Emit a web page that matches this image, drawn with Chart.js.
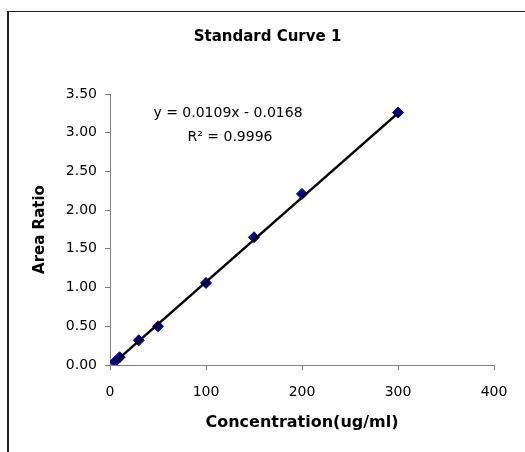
<!DOCTYPE html>
<html>
<head>
<meta charset="utf-8">
<script src="https://cdn.jsdelivr.net/npm/chart.js@4.4.1/dist/chart.umd.min.js"></script>
<style>
  html, body { margin: 0; padding: 0; background: #fff; }
  #wrap { position: relative; width: 525px; height: 452px; overflow: hidden; }
  #frame { position: absolute; left: 7px; top: 11px; width: 600px; height: 500px;
           border-left: 2px solid #222; border-top: 1px solid #222; box-sizing: border-box; }
  canvas { position: absolute; left: 0; top: 0; }
</style>
</head>
<body>
<div id="wrap">
  <div id="frame"></div>
  <canvas id="curveChart" width="525" height="452"></canvas>
</div>
<script>
// Concentration (ug/ml) and measured area ratio
const concentrations = [5, 10, 30, 50, 100, 150, 200, 300];
const areaRatios = [0.04, 0.10, 0.32, 0.50, 1.06, 1.65, 2.21, 3.26];

// Linear fit shown on the chart
const fitSlope = 0.0109;
const fitIntercept = -0.0168;
const fitR2 = 0.9996;

const xTicks = [0, 100, 200, 300, 400];
const yTicks = [0, 0.5, 1, 1.5, 2, 2.5, 3, 3.5];

const points = concentrations.map((c, i) => ({ x: c, y: areaRatios[i] }));

// Trendline across the data range
const xMin = Math.min(...concentrations);
const xMax = Math.max(...concentrations);
const trend = [xMin, xMax].map(x => ({ x: x, y: fitSlope * x + fitIntercept }));

const FONT = "'DejaVu Sans', Arial, sans-serif";

// Equation text in the plot
const equationLabel = {
  id: 'equationLabel',
  afterDatasetsDraw(chart) {
    const ctx = chart.ctx;
    const area = chart.chartArea;
    const sign = fitIntercept < 0 ? '-' : '+';
    ctx.save();
    ctx.fillStyle = '#000';
    ctx.font = '14px ' + FONT;
    ctx.textAlign = 'center';
    ctx.textBaseline = 'middle';
    ctx.fillText('y = ' + fitSlope.toFixed(4) + 'x ' + sign + ' ' + Math.abs(fitIntercept).toFixed(4), area.left + 118, area.top + 19);
    ctx.fillText('R\u00B2 = ' + fitR2.toFixed(4), area.left + 120, area.top + 43);
    ctx.restore();
  }
};

const ctx = document.getElementById('curveChart').getContext('2d');
const chart = new Chart(ctx, {
  type: 'scatter',
  data: {
    datasets: [{
      type: 'line',
      label: 'Linear fit',
      data: trend,
      borderColor: '#000',
      borderWidth: 2.5,
      pointRadius: 0,
      fill: false
    }, {
      label: 'Standard',
      data: points,
      pointStyle: 'rectRot',
      pointRadius: 5.5,
      backgroundColor: '#00008b',
      borderColor: '#00008b',
      borderWidth: 1
    }]
  },
  options: {
    responsive: false,
    animation: false,
    layout: { padding: { top: 0, left: 10, right: 0, bottom: 0 } },
    plugins: {
      legend: { display: false },
      tooltip: { enabled: false },
      title: {
        display: true,
        text: 'Standard Curve 1',
        color: '#000',
        font: { family: FONT, size: 15, weight: 'bold' },
        padding: { top: 28, bottom: 48 }
      }
    },
    scales: {
      x: {
        type: 'linear',
        min: 0,
        max: 400,
        afterFit: s => { s.height = 87; },
        afterBuildTicks: s => { s.ticks = xTicks.map(v => ({ value: v })); },
        grid: { drawOnChartArea: false, color: '#808080', tickLength: 5 },
        border: { color: '#808080' },
        ticks: { color: '#000', font: { family: FONT, size: 14 }, padding: 14 },
        title: {
          display: true,
          text: 'Concentration(ug/ml)',
          color: '#000',
          font: { family: FONT, size: 16, weight: 'bold' },
          padding: { top: 0, bottom: 20 }
        }
      },
      y: {
        type: 'linear',
        min: 0,
        max: 3.5,
        afterFit: s => { s.width = 100; },
        afterBuildTicks: s => { s.ticks = yTicks.map(v => ({ value: v })); },
        grid: { drawOnChartArea: false, color: '#808080', tickLength: 5 },
        border: { color: '#808080' },
        ticks: {
          color: '#000',
          font: { family: FONT, size: 14 },
          padding: 8,
          callback: v => Number(v).toFixed(2)
        },
        title: {
          display: true,
          text: 'Area Ratio',
          color: '#000',
          font: { family: FONT, size: 15, weight: 'bold' },
          padding: { top: 21, bottom: 0 }
        }
      },
      // empty right-hand spacer so the plot ends where the reference does
      spacer: {
        type: 'linear',
        position: 'right',
        min: 0,
        max: 1,
        afterFit: s => { s.width = 31; },
        grid: { display: false },
        border: { display: false },
        ticks: { display: false }
      }
    }
  },
  plugins: [equationLabel]
});
</script>
</body>
</html>
